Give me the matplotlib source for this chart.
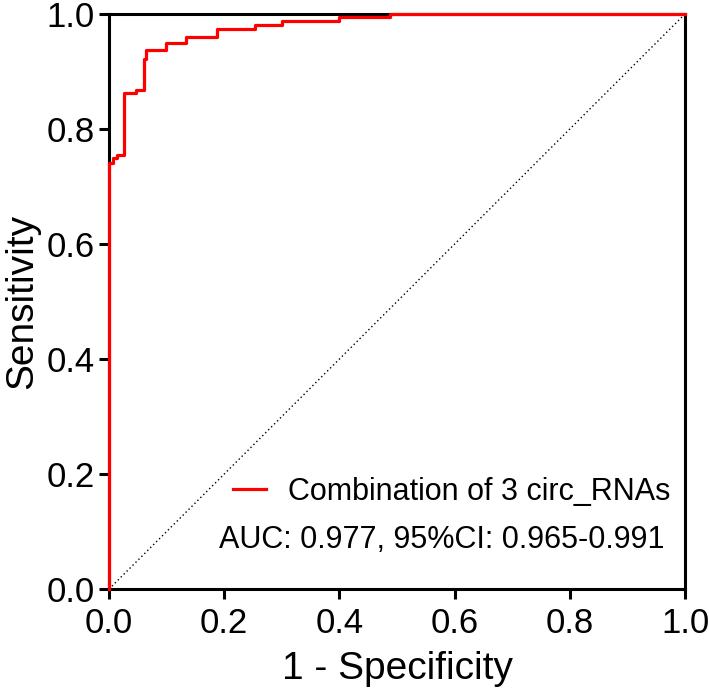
import numpy as np
import matplotlib
matplotlib.use("Agg")
import matplotlib.pyplot as plt

plt.rcParams['font.family'] = ['Liberation Sans', 'DejaVu Sans']

# ROC curve (step vertices)
fpr = [0.0, 0.0, 0.007, 0.014, 0.026, 0.047, 0.060, 0.065, 0.099, 0.133,
       0.187, 0.253, 0.300, 0.400, 0.487, 1.0]
tpr = [0.0, 0.740, 0.749, 0.755, 0.862, 0.868, 0.921, 0.937, 0.950, 0.960,
       0.974, 0.980, 0.988, 0.994, 1.0, 1.0]

label = "Combination of 3 circ_RNAs"
auc_text = "AUC: 0.977, 95%CI: 0.965-0.991"
ticks = [0.0, 0.2, 0.4, 0.6, 0.8, 1.0]

fig = plt.figure(figsize=(7.09, 6.98), dpi=100)
ax = fig.add_axes([0.1537, 0.156, 0.8125, 0.824])

# reference line
ax.plot([0, 1], [0, 1], color='black', linestyle=(0, (1, 2)), linewidth=1.0)

ax.plot(fpr, tpr, color='red', linewidth=2.3, drawstyle='steps-post',
        label=label, clip_on=False, zorder=5)

ax.set_xlim(0, 1)
ax.set_ylim(0, 1)
ax.set_xticks(ticks)
ax.set_yticks(ticks)
ax.set_xticklabels(["%.1f" % t for t in ticks])
ax.set_yticklabels(["%.1f" % t for t in ticks])

for s in ax.spines.values():
    s.set_linewidth(2.2)
ax.tick_params(direction='out', length=7, width=2.2, labelsize=25)
ax.tick_params(axis='x', pad=6)
ax.tick_params(axis='y', pad=3.5)

ax.set_xlabel("1 - Specificity", fontsize=28, labelpad=8)
ax.set_ylabel("Sensitivity", fontsize=28, labelpad=4)

leg = ax.legend(loc='center right', bbox_to_anchor=(0.974, 0.169), frameon=False,
                fontsize=22, handlelength=1.1, handletextpad=0.7,
                borderpad=0, borderaxespad=0)

ax.text(0.965, 0.085, auc_text, transform=ax.transAxes, fontsize=22,
        ha='right', va='center')

fig.savefig("out.png", dpi=100)
